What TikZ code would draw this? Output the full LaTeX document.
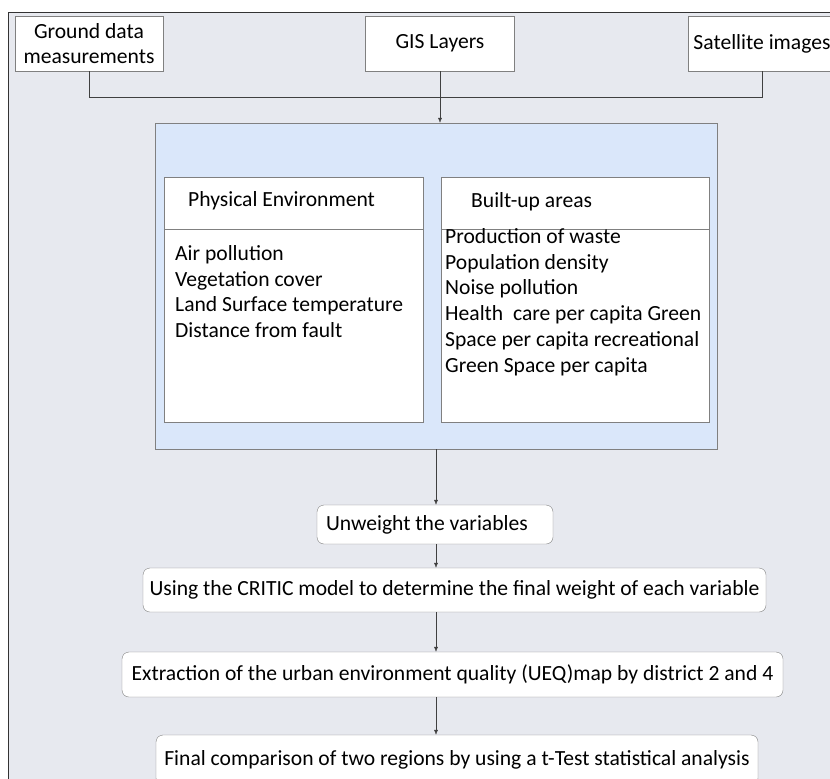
\documentclass[tikz,border=0pt]{standalone}
\usepackage{fontspec}
\setmainfont{Carlito}
\usetikzlibrary{arrows.meta,positioning}
\definecolor{bggray}{HTML}{E7E9EF}
\definecolor{panelblue}{HTML}{DAE7FA}
\definecolor{edgegray}{HTML}{808080}

\begin{document}
\begin{tikzpicture}[x=1pt, y=-1pt,
  font=\fontsize{21.6}{25.8}\selectfont,
  box/.style={draw=edgegray, fill=white, inner sep=0pt},
  src/.style={box, minimum height=55pt, align=center},
  stepbox/.style={box, rounded corners=7pt},
  txt/.style={inner sep=0pt, align=left},
  arr/.style={-{Latex[length=5pt, width=4pt]}, black!75}]
\useasboundingbox (0,0) rectangle (830,779);
\clip (0,0) rectangle (830,779);
\fill[white] (0,0) rectangle (830,779);
\draw[fill=bggray, draw=black!80, line width=1pt] (8,12) rectangle (860,820);
% data sources
\node[src, minimum width=148pt] (ground) at (89,43.5) {Ground data\\measurements};
\node[src, minimum width=149pt] (gis) at (440,43.5) {GIS Layers};
\node[src, minimum width=148pt] (sat) at (762,43.5) {Satellite images};
% indicator panel
\node[draw=edgegray, fill=panelblue, minimum width=562pt, minimum height=326pt] (panel) at (436,286) {};
\node[box, minimum width=259pt, minimum height=245pt] (phys) at (293.5,299.5) {};
\node[box, minimum width=268pt, minimum height=245pt] (built) at (575,299.5) {};
\draw[edgegray] ([yshift=-52pt]phys.north west) -- ([yshift=-52pt]phys.north east);
\draw[edgegray] ([yshift=-52pt]built.north west) -- ([yshift=-52pt]built.north east);
\node[txt, anchor=west] (physhead) at (188,201) {Physical Environment};
\node[txt, anchor=west] (builthead) at (471,202) {Built-up areas};
\node[txt, anchor=north west] (physlist) at (175,245)
  {Air pollution\\Vegetation cover\\Land Surface temperature\\Distance from fault};
\node[txt, anchor=north west] (builtlist) at (445,228)
  {Production of waste\\Population density\\Noise pollution\\Health\ \ care per capita Green\\Space per capita recreational\\Green Space per capita};
% processing steps
\node[stepbox, minimum height=39pt, text width=218pt, inner xsep=9pt, align=flush left] (unw) at (435,524.5) {Unweight the variables};
\node[stepbox, minimum width=623pt, minimum height=44pt] (critic) at (454.5,590) {Using the CRITIC model to determine the final weight of each variable};
\node[stepbox, minimum width=661pt, minimum height=45pt] (extract) at (452.5,674.5) {Extraction of the urban environment quality (UEQ)map by district 2 and 4};
\node[stepbox, minimum width=602pt, minimum height=50pt] (final) at (457,760) {Final comparison of two regions by using a t-Test statistical analysis};
% connectors
\draw[black!75] (ground.south) -- ++(0,26) -| (sat.south);
\draw[arr] (gis.south) -- (gis.south |- panel.north);
\draw[arr] (panel.south) -- (panel.south |- unw.north);
\foreach \a/\b in {unw/critic, critic/extract, extract/final}
  \draw[arr] (panel.south |- \a.south) -- (panel.south |- \b.north);
\end{tikzpicture}
\end{document}
